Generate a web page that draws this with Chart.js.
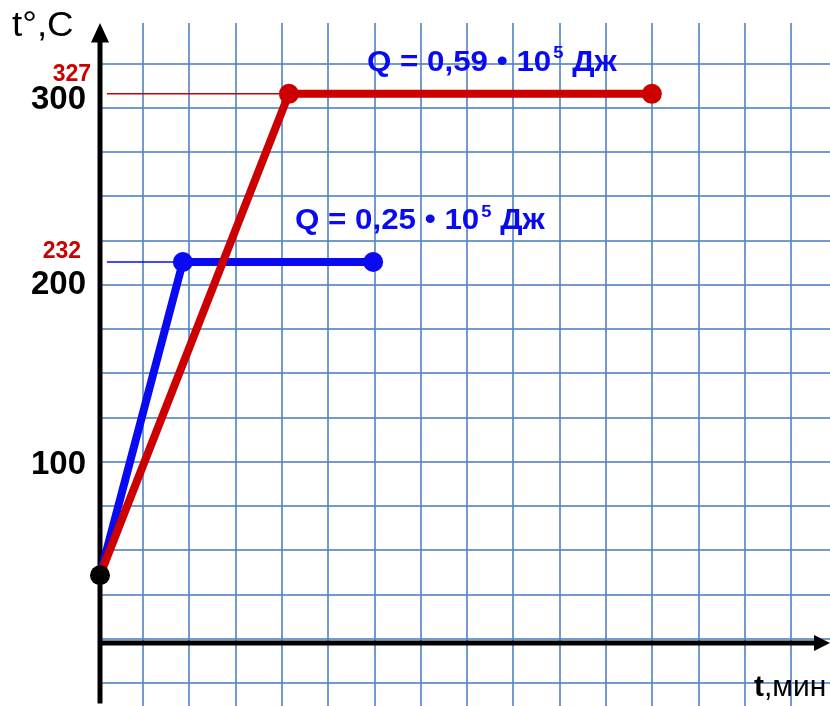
<!DOCTYPE html>
<html>
<head>
<meta charset="utf-8">
<script src="https://cdn.jsdelivr.net/npm/chart.js@4"></script>
<style>
  html, body { margin: 0; padding: 0; background: #fff; }
  #wrap { width: 830px; height: 706px; }
</style>
</head>
<body>
<div id="wrap"><canvas id="c" width="830" height="706"></canvas></div>
<script>
// time in grid squares, temperature in °C (as drawn)
const startTime = [0];
const startTemp = [36];
const tinTime = [0, 1.79, 5.9];
const tinTemp = [36, 213, 213];
const leadTime = [0, 4.08, 11.92];
const leadTemp = [36, 308, 308];
const yTickLabels = [100, 200, 300];
const meltLabels = ['232', '327'];
const heatLabels = ['Q = 0,25 • 10', 'Q = 0,59 • 10'];
const heatPower = '5';
const heatUnit = ' Дж';

const BLUE = '#0a0af0';
const RED = '#cc0000';
const GRID = 'rgba(80,130,195,0.8)';
const FONT = '"Liberation Sans", Arial, sans-serif';

const pts = (xs, ys) => xs.map((x, i) => ({ x: x, y: ys[i] }));

// stretched text helper, returns drawn width
function sText(ctx, txt, x, y, sx) {
  const w = ctx.measureText(txt).width * sx;
  ctx.save();
  ctx.translate(x, y);
  ctx.scale(sx, 1);
  ctx.fillText(txt, 0, 0);
  ctx.restore();
  return w;
}

// overlay: black axes with arrows + all texts
const overlay = {
  id: 'overlay',
  beforeDatasetsDraw(chart) {
    const { ctx, scales: { x, y } } = chart;
    const x0 = x.getPixelForValue(0);
    const yAxis = y.getPixelForValue(-2.3);
    ctx.save();
    ctx.strokeStyle = '#000';
    ctx.fillStyle = '#000';
    ctx.lineWidth = 5;
    // y axis
    ctx.beginPath();
    ctx.moveTo(x0, y.getPixelForValue(-36.5));
    ctx.lineTo(x0, y.getPixelForValue(338));
    ctx.stroke();
    ctx.beginPath();
    ctx.moveTo(x0, y.getPixelForValue(348));
    ctx.lineTo(x0 - 9, y.getPixelForValue(337));
    ctx.lineTo(x0 + 9, y.getPixelForValue(337));
    ctx.closePath();
    ctx.fill();
    // x axis
    const xr = x.right;
    ctx.beginPath();
    ctx.moveTo(x0, yAxis);
    ctx.lineTo(xr - 14, yAxis);
    ctx.stroke();
    ctx.beginPath();
    ctx.moveTo(xr, yAxis);
    ctx.lineTo(xr - 16, yAxis - 8);
    ctx.lineTo(xr - 16, yAxis + 8);
    ctx.closePath();
    ctx.fill();
    ctx.restore();
  },
  afterDatasetsDraw(chart) {
    const { ctx, scales: { x, y } } = chart;
    ctx.save();
    ctx.textBaseline = 'middle';
    // y tick labels
    const tickShift = { 100: 3, 200: 0, 300: -8 };
    ctx.fillStyle = '#000';
    ctx.textAlign = 'right';
    ctx.font = 'bold 33px ' + FONT;
    yTickLabels.forEach(v => ctx.fillText(String(v), 86, y.getPixelForValue(v) + tickShift[v]));
    // melting points
    ctx.fillStyle = RED;
    ctx.font = 'bold 23px ' + FONT;
    ctx.fillText(meltLabels[0], 81, y.getPixelForValue(tinTemp[1]) - 10);
    ctx.fillText(meltLabels[1], 91, y.getPixelForValue(leadTemp[1]) - 19);
    // axis titles
    ctx.fillStyle = '#000';
    ctx.textAlign = 'left';
    ctx.font = '35px ' + FONT;
    sText(ctx, 't°,C', 12, 26, 1.05);
    ctx.font = 'bold 30px ' + FONT;
    ctx.fillText('t', 754, 688);
    const tw = ctx.measureText('t').width;
    ctx.font = '30px ' + FONT;
    ctx.fillText(',мин', 754 + tw, 688);
    // heat annotations
    const heat = (txt, left, cy) => {
      ctx.fillStyle = BLUE;
      ctx.font = 'bold 29px ' + FONT;
      let w = sText(ctx, txt, left, cy, 1.08);
      ctx.font = 'bold 17px ' + FONT;
      w += 2 + sText(ctx, heatPower, left + w + 2, cy - 9, 1.08);
      ctx.font = 'bold 29px ' + FONT;
      sText(ctx, heatUnit, left + w, cy, 1.08);
    };
    heat(heatLabels[0], 295, y.getPixelForValue(tinTemp[2]) - 41);
    heat(heatLabels[1], 367, y.getPixelForValue(leadTemp[2]) - 31);
    ctx.restore();
  }
};

new Chart(document.getElementById('c'), {
  type: 'scatter',
  data: {
    datasets: [
      { data: pts(startTime, startTemp), clip: false, pointRadius: 10, pointBackgroundColor: '#000', pointBorderWidth: 0 },
      { data: pts(leadTime, leadTemp), clip: false, showLine: true, borderColor: RED, borderWidth: 8,
        pointRadius: [0, 10, 10], pointBackgroundColor: RED, pointBorderWidth: 0 },
      { data: pts(tinTime, tinTemp), clip: false, showLine: true, borderColor: BLUE, borderWidth: 8,
        pointRadius: [0, 10, 10], pointBackgroundColor: BLUE, pointBorderWidth: 0 },
      { data: [{ x: 0.15, y: leadTemp[1] }, { x: leadTime[1], y: leadTemp[1] }], showLine: true,
        borderColor: RED, borderWidth: 1.5, pointRadius: 0 },
      { data: [{ x: 0.15, y: tinTemp[1] }, { x: tinTime[1], y: tinTemp[1] }], showLine: true,
        borderColor: BLUE, borderWidth: 1.5, pointRadius: 0 }
    ]
  },
  options: {
    responsive: false,
    animation: false,
    layout: { padding: { left: 100, top: 23, right: 0, bottom: 0 }, autoPadding: false },
    plugins: { legend: { display: false }, tooltip: { enabled: false } },
    scales: {
      x: {
        type: 'linear', min: 0, max: 15.767,
        ticks: { display: false },
        border: { display: false },
        grid: { color: GRID, lineWidth: 2, drawTicks: false },
        afterBuildTicks: s => { s.ticks = []; for (let k = 0; k < 15; k++) s.ticks.push({ value: 0.93 + k }); }
      },
      y: {
        type: 'linear', min: -37.85, max: 348,
        ticks: { display: false },
        border: { display: false },
        grid: { color: GRID, lineWidth: 2, drawTicks: false },
        afterBuildTicks: s => { s.ticks = []; for (let v = -25; v <= 325; v += 25) s.ticks.push({ value: v }); }
      }
    }
  },
  plugins: [overlay]
});
</script>
</body>
</html>
